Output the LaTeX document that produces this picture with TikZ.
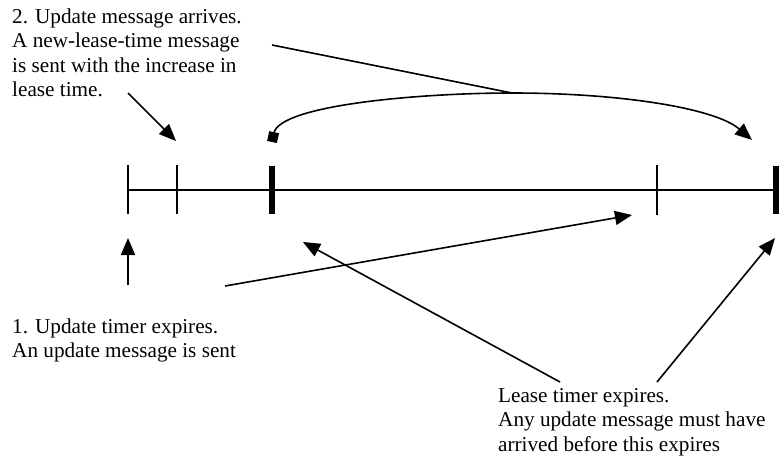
\documentclass[tikz,border=0pt]{standalone}
\usepackage{fontspec}
\setmainfont{Liberation Serif}
\usetikzlibrary{arrows.meta}
\begin{document}
\begin{tikzpicture}[x=1pt,y=-1pt,
  note/.style={anchor=base west,align=left,inner sep=0pt,
    font=\fontsize{21.2}{24.5}\selectfont},
  axis/.style={line width=1.9pt},
  thintick/.style={line width=1.3pt},
  thicktick/.style={line width=5.5pt},
  pointer/.style={line width=1.6pt,-{Triangle[length=17pt,width=14pt]}},
  plain/.style={line width=1.6pt},
  lease/.style={line width=1.6pt,
    {Square[length=10pt,width=10pt]}-{Triangle[length=17pt,width=14pt]}}]
  \useasboundingbox (0,0) rectangle (780,461);

  % timeline
  \coordinate (t0) at (128,190);
  \coordinate (tE) at (776,190);
  \draw[axis] (t0) -- (tE);

  % ticks
  \coordinate (a1) at (128,165); \coordinate (a2) at (128,214);
  \coordinate (b1) at (177,165); \coordinate (b2) at (177,214);
  \coordinate (c1) at (272,166); \coordinate (c2) at (272,214);
  \coordinate (d1) at (657,165); \coordinate (d2) at (657,215);
  \coordinate (e1) at (776,166); \coordinate (e2) at (776,214);
  \draw[thintick] (a1) -- (a2);
  \draw[thintick] (b1) -- (b2);
  \draw[thicktick] (c1) -- (c2);
  \draw[thintick] (d1) -- (d2);
  \draw[thicktick] (e1) -- (e2);

  % text blocks (anchored at the baseline of their last line)
  \node[note] (upd) at (12,96.5) {2. Update message arrives.\\A new-lease-time message\\is sent with the increase in\\lease time.};
  \node[note] (tmr) at (12,357.5) {1. Update timer expires.\\An update message is sent};
  \node[note] (exp) at (498,451) {Lease timer expires.\\Any update message must have\\arrived before this expires};

  % lease extension arc
  \coordinate (arcS) at (272,142);
  \coordinate (arcM) at (512,93);
  \coordinate (arcE) at (752,140);
  \draw[lease] (arcS) .. controls (280,105) and (420,93) .. (arcM)
                     .. controls (620,93) and (715,108) .. (arcE);

  % pointers
  \coordinate (p2s) at (128,93);  \coordinate (p2e) at (176,141);
  \draw[pointer] (p2s) -- (p2e);
  \coordinate (q2s) at (272,45);
  \draw[plain] (q2s) -- (arcM);

  \coordinate (p1s) at (128,285); \coordinate (p1e) at (128,238);
  \draw[pointer] (p1s) -- (p1e);
  \coordinate (q1s) at (225,286); \coordinate (q1e) at (632,215);
  \draw[pointer] (q1s) -- (q1e);

  \coordinate (l1s) at (560,382); \coordinate (l1e) at (303,242);
  \draw[pointer] (l1s) -- (l1e);
  \coordinate (l2s) at (657,382); \coordinate (l2e) at (775,238);
  \draw[pointer] (l2s) -- (l2e);
\end{tikzpicture}
\end{document}
